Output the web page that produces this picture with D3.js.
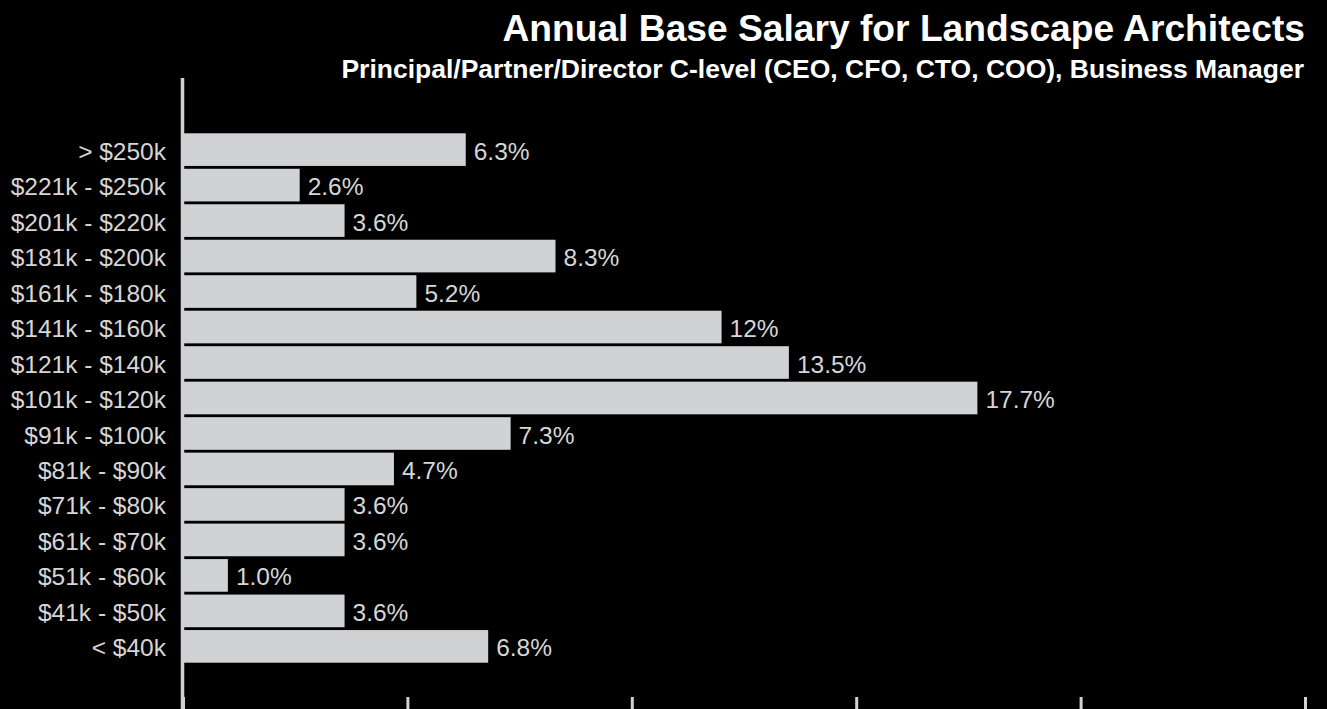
<!DOCTYPE html>
<html>
<head>
<meta charset="utf-8">
<script src="https://cdn.jsdelivr.net/npm/d3@7"></script>
<style>
  html, body { margin: 0; padding: 0; background: #000; }
  svg { display: block; }
  text { font-family: "Liberation Sans", Arial, Helvetica, sans-serif; }
</style>
</head>
<body>
<svg id="chart" width="1327" height="709"></svg>
<script>
// Salary bands, top to bottom
const categories = [
  "> $250k", "$221k - $250k", "$201k - $220k", "$181k - $200k", "$161k - $180k",
  "$141k - $160k", "$121k - $140k", "$101k - $120k", "$91k - $100k", "$81k - $90k",
  "$71k - $80k", "$61k - $70k", "$51k - $60k", "$41k - $50k", "< $40k"
];
// Share of respondents (%)
const values = [6.3, 2.6, 3.6, 8.3, 5.2, 12, 13.5, 17.7, 7.3, 4.7, 3.6, 3.6, 1.0, 3.6, 6.8];
const valueLabels = ["6.3%", "2.6%", "3.6%", "8.3%", "5.2%", "12%", "13.5%", "17.7%", "7.3%", "4.7%", "3.6%", "3.6%", "1.0%", "3.6%", "6.8%"];
const xTicks = [0, 5, 10, 15, 20, 25];

const title = "Annual Base Salary for Landscape Architects";
const subtitle = "Principal/Partner/Director C-level (CEO, CFO, CTO, COO), Business Manager";

const W = 1327, H = 709;
const svg = d3.select("#chart");

svg.append("rect").attr("width", W).attr("height", H).attr("fill", "#000");

const x = d3.scaleLinear().domain([0, 25]).range([183, 1305]);
const y = d3.scaleBand().domain(categories).range([133.3, 662.7]).paddingInner(0.08).paddingOuter(0);

const rows = categories.map((c, i) => ({ cat: c, value: values[i], label: valueLabels[i] }));

// Bars
svg.append("g").selectAll("rect")
  .data(rows)
  .join("rect")
  .attr("x", x(0))
  .attr("y", d => y(d.cat))
  .attr("width", d => x(d.value) - x(0))
  .attr("height", y.bandwidth())
  .attr("fill", "#d1d2d4");

// Value labels
svg.append("g").selectAll("text")
  .data(rows)
  .join("text")
  .attr("x", d => x(d.value) + 8)
  .attr("y", d => y(d.cat) + y.bandwidth() / 2)
  .attr("dy", "0.41em")
  .attr("font-size", 24.5)
  .attr("fill", "#d6d6d6")
  .text(d => d.label);

// Category axis
const yAxis = svg.append("g")
  .attr("transform", "translate(166,0)")
  .call(d3.axisLeft(y).tickSize(0).tickPadding(0));
yAxis.select(".domain").remove();
yAxis.selectAll("text")
  .attr("font-size", 24.5)
  .attr("dy", "0.41em")
  .attr("fill", "#d6d6d6")
  .attr("font-family", "\"Liberation Sans\", Arial, Helvetica, sans-serif");

// Value axis ticks along the bottom
const xAxis = svg.append("g")
  .attr("transform", "translate(0,697)")
  .call(d3.axisBottom(x).tickValues(xTicks).tickSize(16).tickFormat(""));
xAxis.select(".domain").remove();
xAxis.selectAll(".tick line")
  .attr("stroke", "#d1d2d4")
  .attr("stroke-width", 3);

// Vertical baseline
svg.append("line")
  .attr("x1", x(0) - 0.5).attr("x2", x(0) - 0.5)
  .attr("y1", 78).attr("y2", H)
  .attr("stroke", "#d1d2d4")
  .attr("stroke-width", 3.5);

// Titles
svg.append("text")
  .attr("x", 1305).attr("y", 41)
  .attr("text-anchor", "end")
  .attr("font-size", 37.2)
  .attr("font-weight", "bold")
  .attr("fill", "#ffffff")
  .text(title);

svg.append("text")
  .attr("x", 1304).attr("y", 78)
  .attr("text-anchor", "end")
  .attr("font-size", 26.5)
  .attr("font-weight", "bold")
  .attr("fill", "#ffffff")
  .text(subtitle);
</script>
</body>
</html>
